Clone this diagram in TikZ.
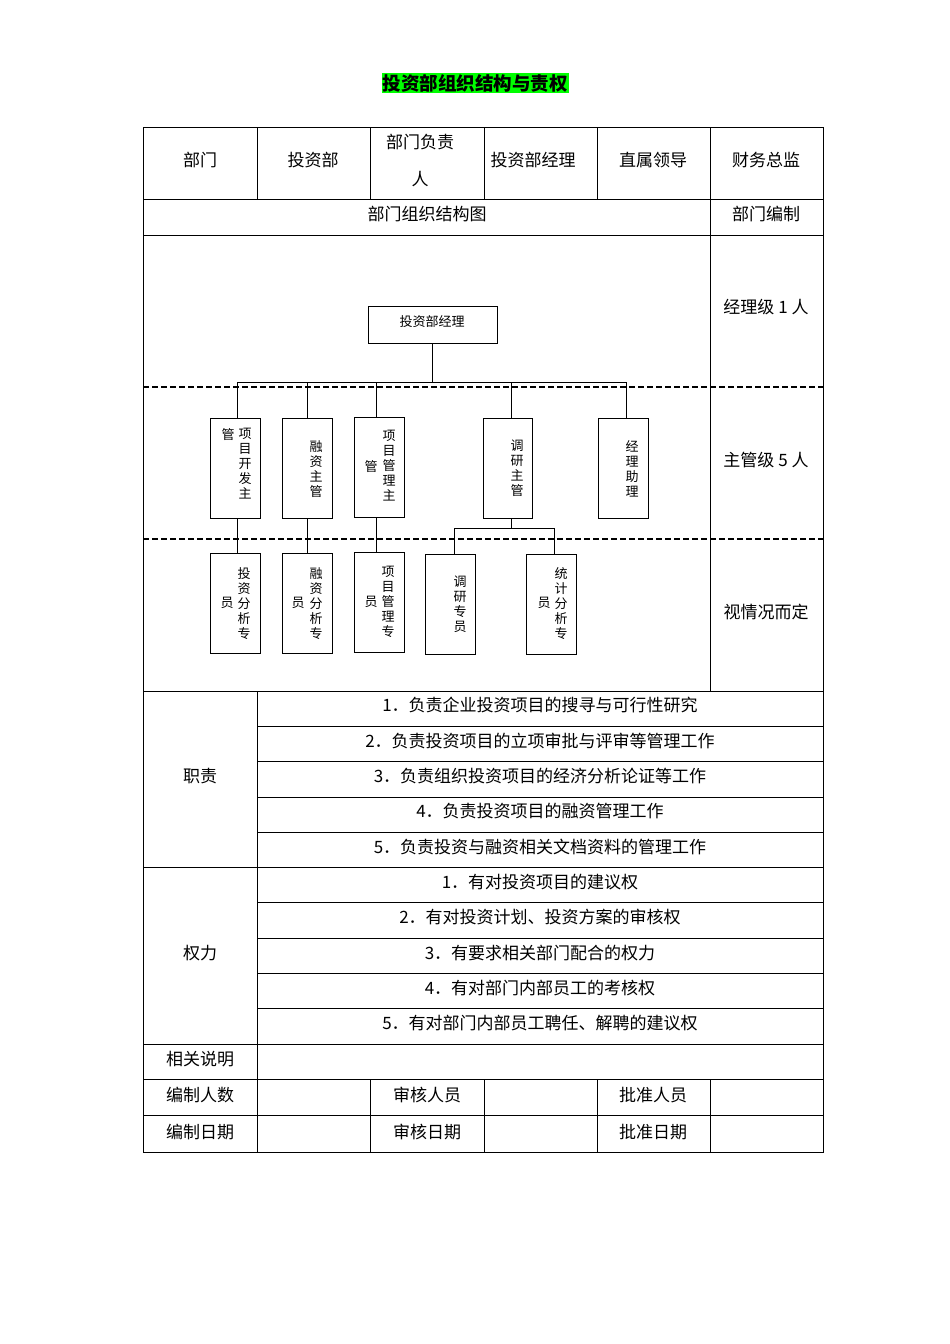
\documentclass[tikz,border=0pt]{standalone}
\usepackage{fontspec}
\setmainfont{Noto Sans CJK SC}
\begin{document}
\begin{tikzpicture}[x=1pt,y=-1pt,
  cell/.style={font=\fontsize{17}{20}\selectfont,inner sep=0pt},
  vc/.style={font=\fontsize{13}{15}\selectfont,anchor=north,align=center,inner sep=0pt},
  bx/.style={draw,line width=1pt},
  ln/.style={line width=1pt}]
\useasboundingbox[fill=white] (0,0) rectangle (950,1344);
% title
\node[fill=green,inner sep=1pt,font=\fontsize{18.5}{20}\selectfont\bfseries] (title) at (475,83) {投资部组织结构与责权};
% table grid
\draw[line width=0.8pt] (143,127) rectangle (823,1152);
\foreach \y in {199,235,691,867,1044,1079,1115} \draw[line width=0.8pt] (143,\y) -- (823,\y);
\foreach \y in {726,761,797,832,902,938,973,1008} \draw[line width=0.8pt] (257,\y) -- (823,\y);
\foreach \x in {257,370,484,597} \draw[line width=0.8pt] (\x,127) -- (\x,199);
\draw[line width=0.8pt] (710,127) -- (710,691);
\draw[line width=0.8pt] (257,691) -- (257,1152);
\foreach \x in {370,484,597,710} \draw[line width=0.8pt] (\x,1079) -- (\x,1152);
% header
\node[cell] (h1) at (200,160) {部门};
\node[cell] (h2) at (313,160) {投资部};
\node[cell,align=center,font=\fontsize{17}{37}\selectfont] (h3) at (420,160) {部门负责\\人};
\node[cell] (h4) at (533,160) {投资部经理};
\node[cell] (h5) at (653,160) {直属领导};
\node[cell] (h6) at (766,160) {财务总监};
\node[cell] (r2a) at (427,214) {部门组织结构图};
\node[cell] (r2b) at (766,214) {部门编制};
\node[cell] (n1) at (766,307) {经理级 1 人};
\node[cell] (n2) at (766,460) {主管级 5 人};
\node[cell] (n3) at (766,612) {视情况而定};
% duties
\node[cell] (zz) at (200,776) {职责};
\node[cell] (d1) at (540,705) {1．负责企业投资项目的搜寻与可行性研究};
\node[cell] (d2) at (540,741) {2．负责投资项目的立项审批与评审等管理工作};
\node[cell] (d3) at (540,776) {3．负责组织投资项目的经济分析论证等工作};
\node[cell] (d4) at (540,811) {4．负责投资项目的融资管理工作};
\node[cell] (d5) at (540,847) {5．负责投资与融资相关文档资料的管理工作};
\node[cell] (ql) at (200,953) {权力};
\node[cell] (p1) at (540,882) {1．有对投资项目的建议权};
\node[cell] (p2) at (540,917) {2．有对投资计划、投资方案的审核权};
\node[cell] (p3) at (540,953) {3．有要求相关部门配合的权力};
\node[cell] (p4) at (540,988) {4．有对部门内部员工的考核权};
\node[cell] (p5) at (540,1023) {5．有对部门内部员工聘任、解聘的建议权};
\node[cell] (f1) at (200,1059) {相关说明};
\node[cell] (f2) at (200,1095) {编制人数};
\node[cell] (f3) at (427,1095) {审核人员};
\node[cell] (f4) at (653,1095) {批准人员};
\node[cell] (f5) at (200,1132) {编制日期};
\node[cell] (f6) at (427,1132) {审核日期};
\node[cell] (f7) at (653,1132) {批准日期};
% dashed separators
\draw[dash pattern=on 6pt off 3pt,line width=1.2pt] (143,387) -- (823,387);
\draw[dash pattern=on 6pt off 3pt,line width=1.2pt] (143,539) -- (823,539);
% org chart
\draw[bx] (368,306) rectangle (497,343);
\node[font=\fontsize{13}{15}\selectfont] (top) at (432,322) {投资部经理};
\draw[ln] (432,343) -- (432,382);
\draw[ln] (237,382) -- (626,382);
\foreach \a/\b/\c in {210/260/418,282/332/418,354/404/417,483/532/418,598/648/418}
  \draw[bx] (\a,\c) rectangle (\b,\c+100);
\foreach \x/\t in {237/418,307/418,376/417,511/418,626/418} \draw[ln] (\x,382) -- (\x,\t);
\foreach \a/\b/\c in {210/260/553,282/332/553,354/404/552,425/475/554,526/576/554}
  \draw[bx] (\a,\c) rectangle (\b,\c+100);
\draw[ln] (237,518) -- (237,553);
\draw[ln] (307,518) -- (307,553);
\draw[ln] (376,517) -- (376,552);
\draw[ln] (511,518) -- (511,528) (454,528) -- (554,528);
\draw[ln] (454,528) -- (454,554) (554,528) -- (554,554);
% vertical texts
\node[vc] (a1) at (245,428) {项\\目\\开\\发\\主};
\node[vc] (a1b) at (228,428) {管};
\node[vc] (a2) at (316,440) {融\\资\\主\\管};
\node[vc] (a3) at (389,430) {项\\目\\管\\理\\主};
\node[vc] (a3b) at (371,460) {管};
\node[vc] (a4) at (517,440) {调\\研\\主\\管};
\node[vc] (a5) at (632,440) {经\\理\\助\\理};
\node[vc] (b1) at (244,567) {投\\资\\分\\析\\专};
\node[vc] (b1b) at (227,597) {员};
\node[vc] (b2) at (316,567) {融\\资\\分\\析\\专};
\node[vc] (b2b) at (298,597) {员};
\node[vc] (b3) at (388,566) {项\\目\\管\\理\\专};
\node[vc] (b3b) at (371,596) {员};
\node[vc] (b4) at (460,576) {调\\研\\专\\员};
\node[vc] (b5) at (561,567) {统\\计\\分\\析\\专};
\node[vc] (b5b) at (544,597) {员};
\end{tikzpicture}
\end{document}
